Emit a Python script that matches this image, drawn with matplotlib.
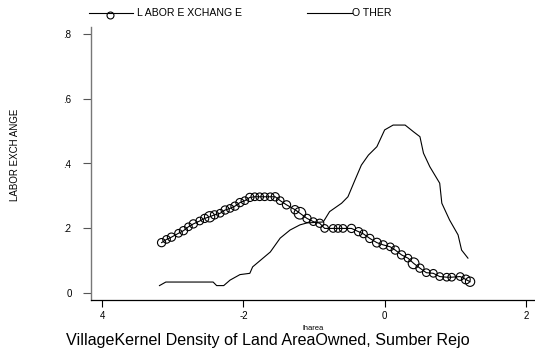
import matplotlib
matplotlib.use("Agg")
import matplotlib.pyplot as plt
from matplotlib.lines import Line2D

plt.rcParams['font.family'] = ['Liberation Sans', 'DejaVu Sans']

# labor exchange kernel density (x = lharea, y = density, s = marker weight)
labor_x = [-3.16, -3.09, -3.02, -2.92, -2.85, -2.78, -2.71, -2.62, -2.55, -2.48,
           -2.41, -2.33, -2.26, -2.19, -2.12, -2.05, -1.98, -1.91, -1.84, -1.77,
           -1.70, -1.62, -1.55, -1.48, -1.39, -1.27, -1.20, -1.10, -1.01, -0.92,
           -0.85, -0.73, -0.66, -0.59, -0.47, -0.37, -0.30, -0.21, -0.11, -0.02,
           0.08, 0.15, 0.24, 0.33, 0.41, 0.50, 0.59, 0.69, 0.78, 0.88,
           0.95, 1.07, 1.15, 1.21]
labor_y = [0.155, 0.165, 0.172, 0.184, 0.192, 0.204, 0.213, 0.222, 0.230, 0.235,
           0.241, 0.246, 0.256, 0.261, 0.268, 0.279, 0.285, 0.295, 0.297, 0.297,
           0.297, 0.297, 0.297, 0.285, 0.272, 0.257, 0.246, 0.230, 0.220, 0.215,
           0.199, 0.199, 0.199, 0.199, 0.199, 0.189, 0.182, 0.168, 0.155, 0.148,
           0.142, 0.132, 0.117, 0.107, 0.091, 0.076, 0.062, 0.060, 0.050, 0.048,
           0.048, 0.050, 0.041, 0.034]
labor_w = [35, 30, 35, 30, 35, 30, 35, 30, 35, 55,
           35, 30, 35, 30, 35, 35, 30, 35, 30, 30,
           30, 30, 35, 30, 35, 35, 70, 35, 30, 35,
           30, 30, 30, 30, 35, 35, 30, 35, 40, 35,
           30, 35, 35, 30, 60, 35, 30, 30, 30, 30,
           30, 30, 40, 45]

# other households kernel density
other_x = [-3.19, -3.10, -2.43, -2.38, -2.28, -2.19, -2.05, -1.91, -1.87, -1.62,
           -1.48, -1.34, -1.20, -1.10, -0.87, -0.78, -0.61, -0.52, -0.42, -0.33,
           -0.23, -0.11, 0.00, 0.12, 0.29, 0.41, 0.50, 0.55, 0.64, 0.78,
           0.81, 0.92, 1.04, 1.09, 1.18]
other_y = [0.022, 0.033, 0.033, 0.022, 0.022, 0.039, 0.056, 0.060, 0.080, 0.126,
           0.169, 0.194, 0.210, 0.216, 0.219, 0.251, 0.277, 0.297, 0.349, 0.395,
           0.426, 0.452, 0.504, 0.519, 0.519, 0.498, 0.483, 0.432, 0.390, 0.339,
           0.277, 0.225, 0.179, 0.132, 0.107]

xticks = [-4, -2, 0, 2]
xtick_labels = ['4', '-2', '0', '2']
yticks = [0, 0.2, 0.4, 0.6, 0.8]
ytick_labels = ['0', '.2', '.4', '.6', '.8']

fig = plt.figure(figsize=(5.35, 3.55), dpi=100)
ax = fig.add_axes([91 / 535, 55 / 355, 444 / 535, 273 / 355])

ax.plot(labor_x, labor_y, color='black', linewidth=0.8)
ax.scatter(labor_x, labor_y, s=labor_w, facecolors='none', edgecolors='black', linewidths=0.8)
ax.plot(other_x, other_y, color='black', linewidth=0.8)

ax.set_xlim(-4.16, 2.13)
ax.set_ylim(-0.0226, 0.8226)
ax.set_xticks(xticks)
ax.set_xticklabels(xtick_labels)
ax.set_yticks(yticks)
ax.set_yticklabels(ytick_labels)
ax.tick_params(axis='x', direction='out', length=5, width=0.8, labelsize=7, pad=3)
ax.tick_params(axis='y', direction='out', length=6, width=0.8, labelsize=7, pad=8,
               color='#555555')
for s in ['top', 'right']:
    ax.spines[s].set_visible(False)
ax.spines['left'].set_color('#777777')
ax.spines['left'].set_linewidth(1.0)
ax.spines['bottom'].set_linewidth(0.9)

ax.set_xlabel('lharea', fontsize=5.5, labelpad=3)
fig.text(15 / 535, 1 - 155 / 355, 'LABOR EXCH ANGE', rotation=90, fontsize=7,
         ha='center', va='center')
fig.text(0.5, 1 - 340 / 355, 'VillageKernel Density of Land AreaOwned, Sumber Rejo',
         fontsize=11.6, ha='center', va='center')

# legend across the top
ly = 1 - 13 / 355
fig.add_artist(Line2D([89 / 535, 133 / 535], [ly, ly], color='black', linewidth=0.8))
fig.add_artist(Line2D([110 / 535], [1 - 15 / 355], marker='o', markersize=5,
                      markerfacecolor='none', markeredgecolor='black', markeredgewidth=0.8))
fig.text(137 / 535, ly, 'L ABOR E XCHANG E', fontsize=7.6, va='center', ha='left')
fig.add_artist(Line2D([307 / 535, 352 / 535], [ly, ly], color='black', linewidth=0.8))
fig.text(352 / 535, ly, 'O THER', fontsize=7.6, va='center', ha='left')

fig.savefig('out.png', dpi=100)
